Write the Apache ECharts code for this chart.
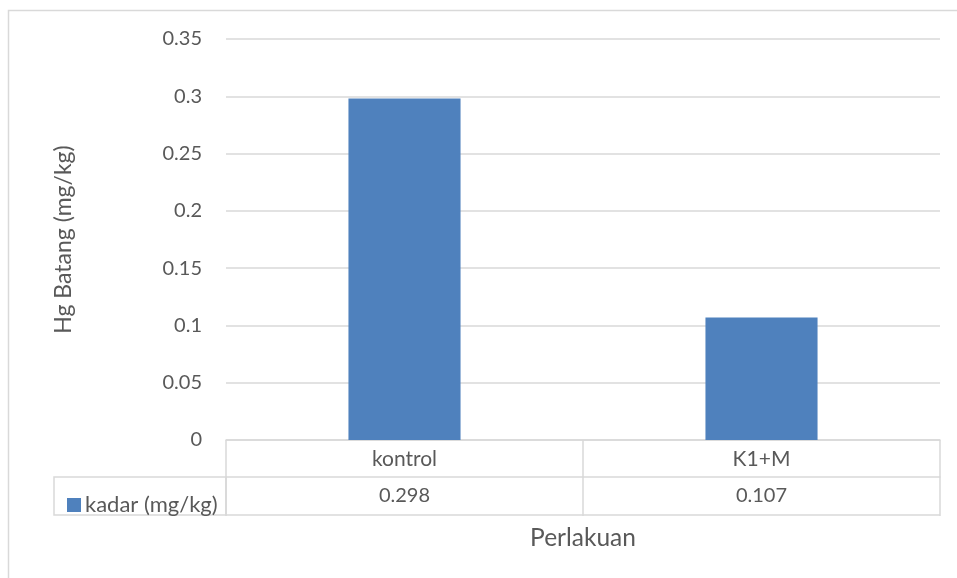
<!DOCTYPE html>
<html>
<head>
<meta charset="utf-8">
<script src="https://cdn.jsdelivr.net/npm/echarts@6/dist/echarts.min.js"></script>
<style>
  html, body { margin: 0; padding: 0; background: #fff; }
  #chart { width: 957px; height: 578px; }
</style>
</head>
<body>
<div id="chart"></div>
<script>
// Hg content in stems per treatment
const categories = ['kontrol', 'K1+M'];
const kadar = [0.298, 0.107];
const seriesName = 'kadar (mg/kg)';
const yTicks = { min: 0, max: 0.35, interval: 0.05 };

const FONT = 'Lato, "Open Sans", sans-serif';
const TEXT = '#595959';
const LINE = '#d9d9d9';

// plot area edges (px)
const G = { left: 226, right: 940, top: 39, bottom: 440 };
const ROW = 37;           // height of a data-table row
const TABLE_LEFT = 54;    // left edge of the series-name cell

const chart = echarts.init(document.getElementById('chart'), null, { renderer: 'canvas' });

chart.setOption({
  animation: false,
  textStyle: { fontFamily: FONT, color: TEXT },
  grid: { left: G.left, right: 957 - G.right, top: G.top, bottom: 578 - G.bottom, containLabel: false },
  legend: {
    data: [seriesName],
    left: 62, top: G.bottom + ROW + 12,
    icon: 'rect', itemWidth: 14, itemHeight: 14, itemGap: 6,
    textStyle: { fontFamily: FONT, fontSize: 22, color: TEXT, padding: [0, 0, 0, -1] }
  },
  xAxis: [
    {
      type: 'category',
      data: categories,
      position: 'bottom',
      axisLine: { show: true, lineStyle: { color: LINE, width: 1.5 } },
      axisTick: { show: true, alignWithLabel: false, length: ROW * 2 + 2, lineStyle: { color: LINE, width: 1.5 } },
      axisLabel: { fontFamily: FONT, fontSize: 21, color: TEXT, margin: 9 },
      name: 'Perlakuan',
      nameLocation: 'middle',
      nameGap: 86,
      nameTextStyle: { fontFamily: FONT, fontSize: 24.5, color: TEXT }
    },
    {
      // second row of the data table: the values
      type: 'category',
      data: kadar.map(v => v.toFixed(3)),
      position: 'bottom',
      offset: ROW,
      axisLine: { show: true, lineStyle: { color: LINE, width: 1.5 } },
      axisTick: { show: false },
      axisLabel: { fontFamily: FONT, fontSize: 20, color: TEXT, margin: 9 }
    }
  ],
  yAxis: {
    type: 'value',
    min: yTicks.min, max: yTicks.max, interval: yTicks.interval,
    axisLine: { show: false },
    axisTick: { show: false },
    splitLine: { lineStyle: { color: LINE, width: 1.5 } },
    axisLabel: { fontFamily: FONT, fontSize: 20, color: TEXT, margin: 24 },
    name: 'Hg Batang (mg/kg)',
    nameLocation: 'middle',
    nameGap: 151,
    nameRotate: 90,
    nameTextStyle: { fontFamily: FONT, fontSize: 23, color: TEXT }
  },
  series: [{
    name: seriesName,
    type: 'bar',
    xAxisIndex: 0,
    data: kadar,
    barWidth: '31.4%',
    itemStyle: { color: '#4f81bd' }
  }],
  graphic: [
    // outer chart-area border
    { type: 'rect', shape: { x: 8.5, y: 10.5, width: 1000, height: 700 },
      style: { fill: 'none', stroke: LINE, lineWidth: 1.5 }, silent: true },
    // series-name cell of the data table
    { type: 'rect', shape: { x: TABLE_LEFT, y: G.bottom + ROW, width: G.left - TABLE_LEFT, height: ROW + 1 },
      style: { fill: 'none', stroke: LINE, lineWidth: 1.5 }, silent: true },
    // bottom edge of the data table
    { type: 'line', shape: { x1: G.left, y1: G.bottom + ROW * 2 + 1, x2: G.right, y2: G.bottom + ROW * 2 + 1 },
      style: { stroke: LINE, lineWidth: 1.5 }, silent: true }
  ]
});
</script>
</body>
</html>
